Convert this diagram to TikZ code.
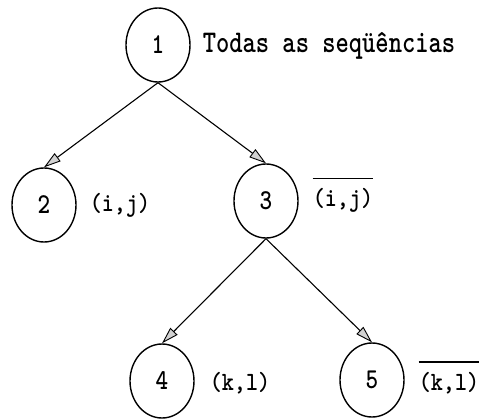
\documentclass[tikz,border=0pt]{standalone}
\usetikzlibrary{shapes.geometric,arrows.meta}
\begin{document}
\begin{tikzpicture}[x=1pt,y=-1pt,
  state/.style={ellipse,draw,line width=1.4pt,minimum width=64pt,minimum height=74pt,inner sep=0pt,
    font=\fontsize{24}{26}\selectfont\ttfamily\bfseries},
  lab/.style={inner sep=0pt,font=\fontsize{22.9}{25}\selectfont\ttfamily\bfseries},
  edge/.style={line width=1.1pt,-{Triangle[length=17pt,width=10pt,fill=gray!35,line width=0.9pt]}},
  bar/.style={line width=1.3pt}]
\useasboundingbox (0,0) rectangle (482,418);
\node[state] (n1) at (158,45) {\scalebox{1}[1.2]{1}};
\node[state] (n2) at (44,205) {\scalebox{1}[1.2]{2}};
\node[state] (n3) at (266,201) {\scalebox{1}[1.2]{3}};
\node[state] (n4) at (162,381) {\scalebox{1}[1.2]{4}};
\node[state] (n5) at (372,380) {\scalebox{1}[1.2]{5}};
\node[lab,font=\fontsize{25.3}{27}\selectfont\ttfamily\bfseries] (t1) at (329,46) {\scalebox{1}[1.25]{Todas as seqüências}};
\node[lab] (l2) at (120,205) {\scalebox{1}[1.15]{(i,j)}};
\node[lab] (l3) at (343,200) {\scalebox{1}[1.15]{(i,j)}};
\node[lab] (l4) at (240,383) {\scalebox{1}[1.15]{(k,l)}};
\node[lab] (l5) at (449,383) {\scalebox{1}[1.15]{(k,l)}};
\draw[bar] ([yshift=9pt]l3.north west) -- ([yshift=9pt]l3.north east);
\draw[bar] ([yshift=10pt]l5.north west) -- ([yshift=10pt]l5.north east);
\draw[edge] (n1.south) -- (n2.north);
\draw[edge] (n1.south) -- (n3.north);
\draw[edge] (n3.south) -- (n4.north);
\draw[edge] (n3.south) -- (n5.north);
\end{tikzpicture}
\end{document}
